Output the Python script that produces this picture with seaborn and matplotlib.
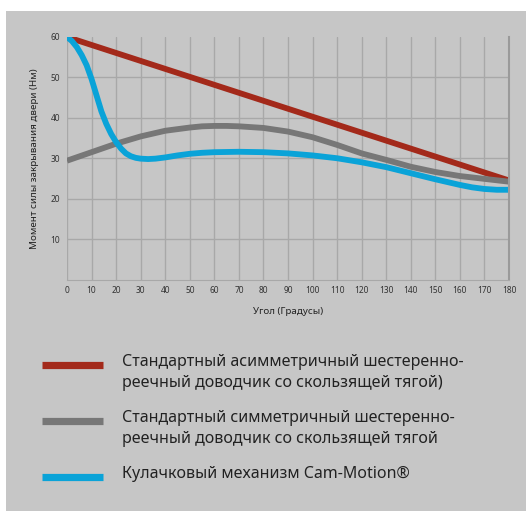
import numpy as np
import matplotlib.pyplot as plt
import matplotlib.patches as patches
from matplotlib.lines import Line2D
import pandas as pd
import seaborn as sns

# Данные
angle_red = [0, 180]
torque_red = [60, 24.5]

angle_gray = [0, 10, 20, 30, 40, 50, 55, 60, 65, 70, 80, 90, 100, 110, 120, 130, 140, 150, 160,
              170, 180]
torque_gray = [29.4, 31.5, 33.6, 35.4, 36.8, 37.6, 37.9, 38.0, 38.0, 37.9, 37.5, 36.6, 35.2, 33.3,
               31.2, 29.6, 27.9, 26.6, 25.6, 24.9, 24.2]

angle_blue = [0, 2, 4, 6, 8, 10, 12, 14, 16, 18, 20, 22, 24, 26, 28, 30, 33, 36, 40, 45, 50, 55,
              60, 70, 80, 90, 100, 110, 120, 130, 140, 150, 160, 165, 170, 175, 180]
torque_blue = [60, 59, 57.5, 55.5, 53, 49.6, 45.6, 41.6, 38.5, 36, 34, 32.4, 31.2, 30.5, 30.1,
               29.9, 29.8, 29.9, 30.2, 30.7, 31.1, 31.35, 31.5, 31.6, 31.5, 31.2, 30.7, 30.0,
               29.0, 27.8, 26.3, 24.8, 23.4, 22.8, 22.4, 22.2, 22.2]

series = ['Стандартный асимметричный шестеренно-\nреечный доводчик со скользящей тягой)',
          'Стандартный симметричный шестеренно-\nреечный доводчик со скользящей тягой',
          'Кулачковый механизм Cam-Motion®']
colors = ['#a3291a', '#777777', '#0aa3d8']

xticks = list(range(0, 181, 10))
yticks = [10, 20, 30, 40, 50, 60]

df = pd.concat([
    pd.DataFrame({'angle': angle_red, 'torque': torque_red, 'series': series[0]}),
    pd.DataFrame({'angle': angle_gray, 'torque': torque_gray, 'series': series[1]}),
    pd.DataFrame({'angle': angle_blue, 'torque': torque_blue, 'series': series[2]}),
])

sns.set_style('white')
plt.rcParams['font.family'] = ['Noto Sans', 'DejaVu Sans']

bg = '#c6c6c6'
fig = plt.figure(figsize=(5.26, 5.11), dpi=100, facecolor='white')
fig.patches.append(patches.Rectangle((6 / 526, 0), 1, 500 / 511, transform=fig.transFigure,
                                     facecolor=bg, edgecolor='none', zorder=-1))
ax = fig.add_axes([67 / 526, (511 - 279.5) / 511, 442 / 526, 242.5 / 511])
ax.set_facecolor(bg)

sns.lineplot(data=df, x='angle', y='torque', hue='series', palette=colors, linewidth=4.2,
             legend=False, ax=ax, sort=False)
for ln in ax.lines:
    ln.set_solid_capstyle('butt')
    ln.set_solid_joinstyle('round')

ax.set_xlim(0, 180)
ax.set_ylim(0, 60)
ax.set_xticks(xticks)
ax.set_yticks(yticks)
ax.tick_params(length=0, labelsize=6, colors='#333333', pad=5)
ax.grid(True, color='#a8a8a8', linewidth=1)
ax.get_ygridlines()[-1].set_visible(False)
ax.set_axisbelow(True)
for s in ['top', 'left']:
    ax.spines[s].set_visible(False)
ax.spines['right'].set_color('#9a9a9a')
ax.spines['right'].set_linewidth(1.5)
ax.spines['bottom'].set_color('#a8a8a8')

ax.set_xlabel('Угол (Градусы)', fontsize=7, color='#222222', labelpad=8)
ax.set_ylabel('Момент силы закрывания двери (Нм)', fontsize=7, color='#222222', labelpad=8)

# Легенда
legend_y = [365, 421, 477]
for name, c, y in zip(series, colors, legend_y):
    fy = (511 - y) / 511
    fig.add_artist(Line2D([42 / 526, 103 / 526], [fy, fy], color=c, linewidth=5.2,
                          transform=fig.transFigure, solid_capstyle='butt'))
    fig.text(122 / 526, (511 - y + 11) / 511, name, fontsize=11.5, color='#222222',
             va='top', ha='left', linespacing=1.4)

fig.savefig('out.png', dpi=100, facecolor='white')
